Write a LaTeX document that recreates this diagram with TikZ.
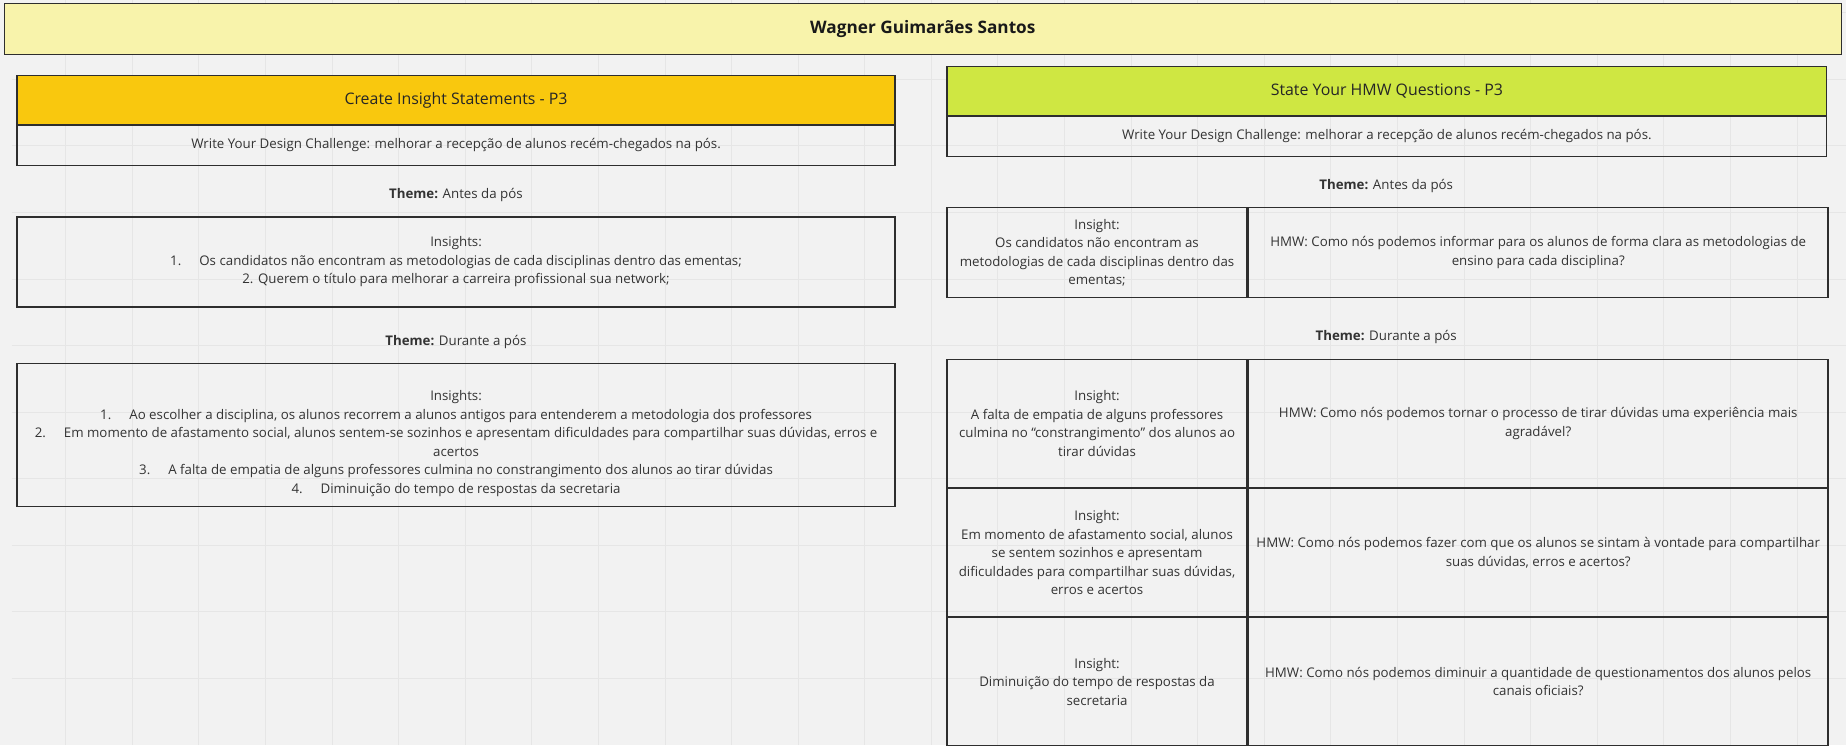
\documentclass[tikz,border=0pt]{standalone}
\usepackage{fontspec}
\setmainfont{Open Sans}
\usetikzlibrary{positioning}
\definecolor{bgc}{HTML}{F2F2F2}
\definecolor{gridc}{HTML}{E6E6E6}
\definecolor{titlec}{HTML}{F8F3AB}
\definecolor{orangec}{HTML}{F9C80E}
\definecolor{limec}{HTML}{CFE742}
\definecolor{linec}{HTML}{2E2E2E}
\definecolor{txtc}{HTML}{333333}

\begin{document}
\begin{tikzpicture}[x=1pt, y=-1pt,
    box/.style={draw=linec, line width=1.3pt, anchor=north west, inner sep=0pt,
      align=center, text=txtc, font=\fontsize{13.3}{18.5}\selectfont},
    head/.style={box, minimum height=48.6, font=\fontsize{15.9}{20}\selectfont, text=black!85},
    chal/.style={box, minimum height=39.7},
    theme/.style={text=txtc, font=\fontsize{13.3}{18.5}\selectfont},
    txt/.style={align=center, text=txtc, font=\fontsize{13.3}{18.5}\selectfont}]
  % background and grid
  \fill[bgc] (0,0) rectangle (1846,745);
  \foreach \gx in {0,...,26} \draw[gridc, line width=.8pt] ({65.7+66.6*\gx},0) -- ({65.7+66.6*\gx},745);
  \foreach \gy in {0,...,10} \draw[gridc, line width=.8pt] (12,{12.2+66.6*\gy}) -- (1846,{12.2+66.6*\gy});

  \node[box, fill=titlec, line width=1pt, minimum width=1837, minimum height=51,
    font=\bfseries\fontsize{17.2}{20}\selectfont, text=black!90] (title) at (4,3) {Wagner Guimarães Santos};

  % left: insight statements
  \node[head, fill=orangec, minimum width=878] (hdL) at (16.5,74.7) {Create Insight Statements - P3};
  \node[chal, minimum width=878] (dcL) at (hdL.south west)
    {Write Your Design Challenge: melhorar a recepção de alunos recém-chegados na pós.};
  \node[theme] (thA) at (456,195) {\textbf{Theme:} Antes da pós};
  \node[box, minimum width=878, minimum height=90] (antL) at (16.5,216) {Insights:\\
    1.\hspace{18pt}Os candidatos não encontram as metodologias de cada disciplinas dentro das ementas;\\
    2. Querem o título para melhorar a carreira profissional sua network;};
  \node[theme] (thD) at (456,341.7) {\textbf{Theme:} Durante a pós};
  \node[box, minimum width=878, minimum height=142.6] (durL) at (16.5,362.7) {};
  \node[txt] (durT) at ([yshift=-8.7pt]durL.center) {Insights:\\
    1.\hspace{18pt}Ao escolher a disciplina, os alunos recorrem a alunos antigos para entenderem a metodologia dos professores\\
    2.\hspace{18pt}Em momento de afastamento social, alunos sentem-se sozinhos e apresentam dificuldades para compartilhar suas dúvidas, erros e\\
    acertos\\
    3.\hspace{18pt}A falta de empatia de alguns professores culmina no constrangimento dos alunos ao tirar dúvidas\\
    4.\hspace{18pt}Diminuição do tempo de respostas da secretaria};

  % right: HMW questions
  \node[head, fill=limec, minimum width=880] (hdR) at (946.5,65.7) {State Your HMW Questions - P3};
  \node[chal, minimum width=880] (dcR) at (hdR.south west)
    {Write Your Design Challenge: melhorar a recepção de alunos recém-chegados na pós.};
  \node[theme] (thAR) at (1386.5,185.7) {\textbf{Theme:} Antes da pós};
  \node[box, minimum width=300.2, minimum height=90] (insA) at (946.5,206.7)
    {Insight:\\Os candidatos não encontram as\\metodologias de cada disciplinas dentro das\\ementas;};
  \node[box, minimum width=579.8, minimum height=90] (hmwA) at (insA.north east)
    {HMW: Como nós podemos informar para os alunos de forma clara as metodologias de\\ensino para cada disciplina?};
  \node[theme] (thDR) at (1386.5,336.7) {\textbf{Theme:} Durante a pós};
  \node[box, minimum width=300.2, minimum height=127.6] (insB) at (946.5,358.7)
    {Insight:\\A falta de empatia de alguns professores\\culmina no “constrangimento” dos alunos ao\\tirar dúvidas};
  \node[box, minimum width=579.8, minimum height=127.6] (hmwB) at (insB.north east)
    {HMW: Como nós podemos tornar o processo de tirar dúvidas uma experiência mais\\agradável?};
  \node[box, minimum width=300.2, minimum height=128] (insC) at (insB.south west)
    {Insight:\\Em momento de afastamento social, alunos\\se sentem sozinhos e apresentam\\dificuldades para compartilhar suas dúvidas,\\erros e acertos};
  \node[box, minimum width=579.8, minimum height=128] (hmwC) at (insC.north east)
    {HMW: Como nós podemos fazer com que os alunos se sintam à vontade para compartilhar\\suas dúvidas, erros e acertos?};
  \node[box, minimum width=300.2, minimum height=127.7] (insD) at (insC.south west)
    {Insight:\\Diminuição do tempo de respostas da\\secretaria};
  \node[box, minimum width=579.8, minimum height=127.7] (hmwD) at (insD.north east)
    {HMW: Como nós podemos diminuir a quantidade de questionamentos dos alunos pelos\\canais oficiais?};
\end{tikzpicture}
\end{document}
